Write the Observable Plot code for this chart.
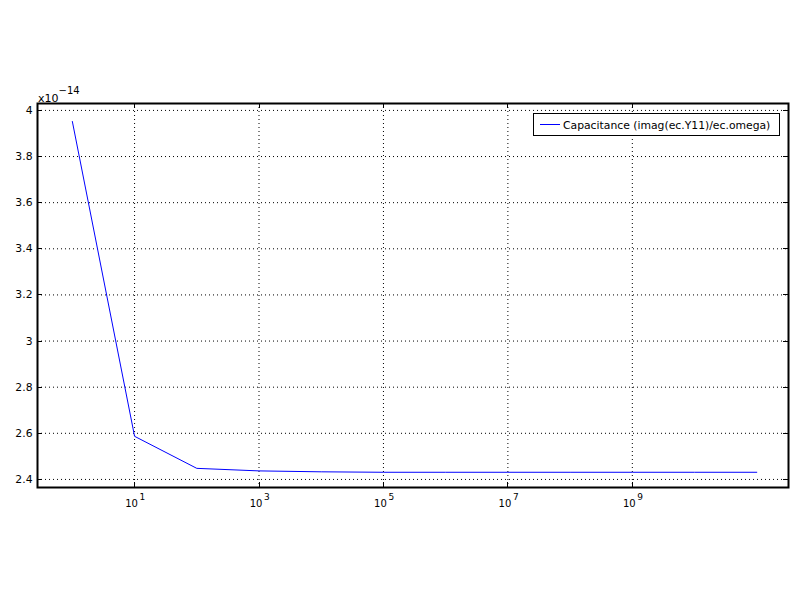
<!DOCTYPE html>
<html><head><meta charset="utf-8">
<script src="https://cdn.jsdelivr.net/npm/d3@7"></script>
<script src="https://cdn.jsdelivr.net/npm/@observablehq/plot@0.6"></script>
<style>body{margin:0;background:#fff}#chart{width:800px;height:600px}</style>
</head><body><div id="chart"></div>
<script>
// data (capacitance in units of 1e-14 F)
const frequency = [1, 10, 100, 1e3, 1e4, 1e5, 1e6, 1e7, 1e8, 1e9, 1e10, 1e11];
const capacitance = [3.952, 2.587, 2.448, 2.437, 2.433, 2.431, 2.431, 2.431, 2.431, 2.431, 2.431, 2.431];
const xTicks = [10, 1e3, 1e5, 1e7, 1e9];
const xTickExp = ["1", "3", "5", "7", "9"];
const yTicks = [2.4, 2.6, 2.8, 3.0, 3.2, 3.4, 3.6, 3.8, 4.0];
const yTickLabels = ["2.4", "2.6", "2.8", "3", "3.2", "3.4", "3.6", "3.8", "4"];
const seriesName = "Capacitance (imag(ec.Y11)/ec.omega)";
const yExponent = "\u221214";

const data = frequency.map((f, i) => ({f, c: capacitance[i]}));
const font = "DejaVu Sans, sans-serif";
const grid = {stroke: "#000", strokeDasharray: "1,3", strokeWidth: 1};

const plot = Plot.plot({
  width: 800, height: 600,
  marginLeft: 37, marginRight: 12, marginTop: 103, marginBottom: 113,
  style: {fontFamily: font, fontSize: "10px", background: "#fff", color: "#000"},
  x: {type: "log", domain: [Math.pow(10, -0.56), Math.pow(10, 11.51)], axis: null},
  y: {domain: [2.365, 4.03], axis: null},
  marks: [
    Plot.ruleX(xTicks, {x: d => d, ...grid}),
    Plot.ruleY(yTicks, {y: d => d, ...grid}),
    Plot.line(data, {x: "f", y: "c", stroke: "#0000ff", strokeWidth: 1}),
    Plot.frame({stroke: "#000", strokeWidth: 2}),
    Plot.text(yTicks, {y: d => d, text: (d, i) => yTickLabels[i], frameAnchor: "left", dx: -5, textAnchor: "end", fontSize: 10.8, fill: "#000"}),
    Plot.text(xTicks, {x: d => d, text: () => "10", frameAnchor: "bottom", dx: -3, dy: 19, fill: "#000"}),
    Plot.text(xTicks, {x: d => d, text: (d, i) => xTickExp[i], frameAnchor: "bottom", dx: 5, dy: 12, textAnchor: "start", fontSize: 9, fill: "#000"})
  ]
});

const svg = d3.select(plot);
const xs = plot.scale("x"), ys = plot.scale("y");
const L = 37, R = 788, T = 103, B = 487;
const tk = svg.append("g").attr("stroke", "#000").attr("stroke-width", 1);
xTicks.forEach(v => {
  const x = Math.round(xs.apply(v)) + 0.5;
  tk.append("line").attr("x1", x).attr("x2", x).attr("y1", B).attr("y2", B - 5);
  tk.append("line").attr("x1", x).attr("x2", x).attr("y1", T).attr("y2", T + 5);
});
yTicks.forEach(v => {
  const y = Math.round(ys.apply(v)) + 0.5;
  tk.append("line").attr("x1", L).attr("x2", L + 5).attr("y1", y).attr("y2", y);
  tk.append("line").attr("x1", R).attr("x2", R - 5).attr("y1", y).attr("y2", y);
});

// exponent label
const ex = svg.append("text").attr("font-family", font).attr("font-size", 11).attr("fill", "#000")
  .attr("text-anchor", "start").attr("x", 38).attr("y", 102);
ex.append("tspan").text("x10");
ex.append("tspan").attr("dy", -8).attr("font-size", 10).text(yExponent);

// legend
const lg = svg.append("g");
lg.append("rect").attr("x", 533.5).attr("y", 113.5).attr("width", 246).attr("height", 22)
  .attr("fill", "#fff").attr("stroke", "#000").attr("stroke-width", 1);
lg.append("line").attr("x1", 540).attr("x2", 560).attr("y1", 124.5).attr("y2", 124.5)
  .attr("stroke", "#0000ff").attr("stroke-width", 1);
lg.append("text").attr("x", 563).attr("y", 128.5).attr("font-family", font).attr("font-size", 10.8)
  .attr("text-anchor", "start").attr("fill", "#000").text(seriesName);

document.getElementById("chart").appendChild(plot);
</script></body></html>
